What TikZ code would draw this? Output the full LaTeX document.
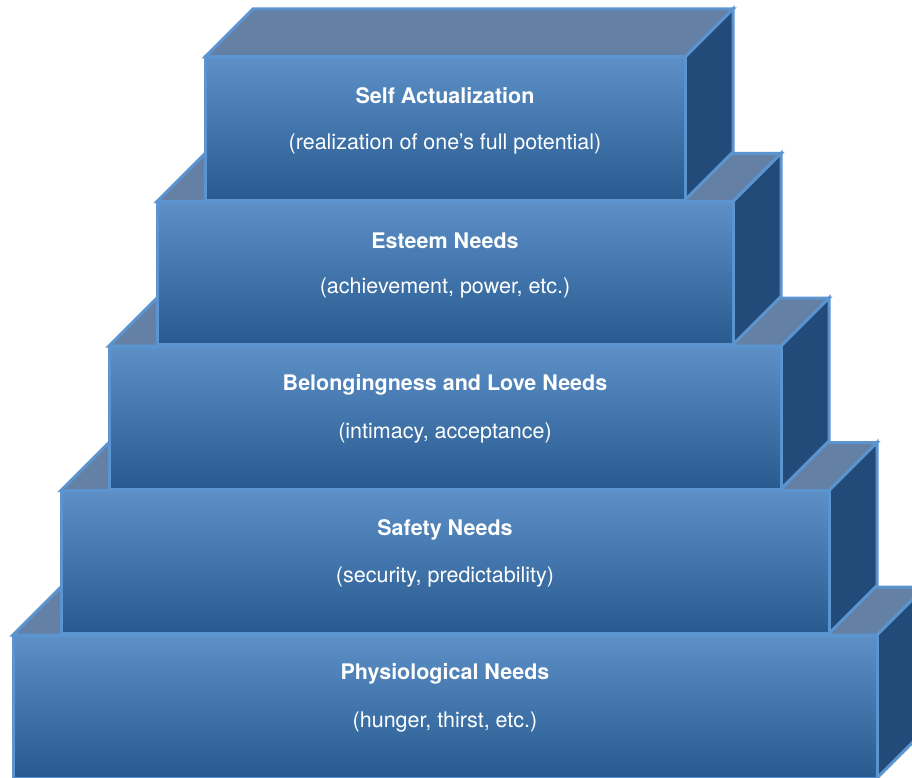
\documentclass[tikz,border=0pt]{standalone}
\usepackage{fontspec}
\setmainfont{TeX Gyre Heros}
\definecolor{facetop}{RGB}{92,144,199}
\definecolor{facebot}{RGB}{40,90,143}
\definecolor{lidblue}{RGB}{100,128,165}
\definecolor{sideblue}{RGB}{35,75,121}
\definecolor{edgeblue}{RGB}{92,148,208}
\begin{document}
\begin{tikzpicture}[x=1pt,y=-1pt,
  edge/.style={draw=edgeblue, line width=3pt, line join=miter},
  level/.style={text=white, font=\fontsize{21.5}{26}\selectfont\bfseries},
  detail/.style={text=white, font=\fontsize{21.5}{26}\selectfont}]
\useasboundingbox (0,0) rectangle (912,778);
\clip (0,0) rectangle (912,778);
% bottom box first, each upper box sits on the one below
\foreach \i/\need/\what in {4/{Physiological Needs}/{(hunger, thirst, etc.)},
    3/{Safety Needs}/{(security, predictability)},
    2/{Belongingness and Love Needs}/{(intimacy, acceptance)},
    1/{Esteem Needs}/{(achievement, power, etc.)},
    0/{Self Actualization}/{(realization of one’s full potential)}}
{
  \pgfmathsetmacro\xl{205-48*\i}
  \pgfmathsetmacro\xr{685+48*\i}
  \pgfmathsetmacro\yt{57+144.5*\i}
  \pgfmathsetmacro\yb{\yt+143}
  % lid and side
  \fill[lidblue, edge] (\xl,\yt) -- (\xr,\yt) -- (\xr+48,\yt-48) -- (\xl+48,\yt-48) -- cycle;
  \fill[sideblue, edge] (\xr,\yt) -- (\xr+48,\yt-48) -- (\xr+48,\yb-48) -- (\xr,\yb) -- cycle;
  % front face
  \shade[top color=facetop, bottom color=facebot] (\xl,\yt) rectangle (\xr,\yb);
  \draw[edge] (\xl,\yt) rectangle (\xr,\yb);
  \node[level] (need\i) at (445,\yt+39) {\need};
  \node[detail] (what\i) at (445,\yt+87) {\what};
}
\end{tikzpicture}
\end{document}
